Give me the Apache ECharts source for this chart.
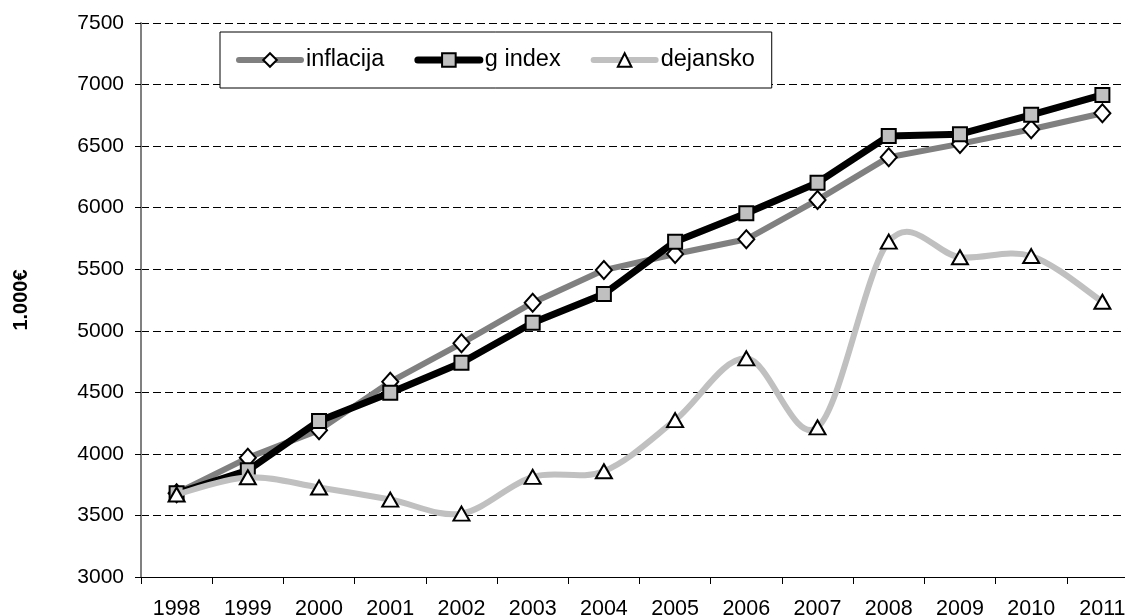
<!DOCTYPE html>
<html>
<head>
<meta charset="utf-8">
<script src="https://cdn.jsdelivr.net/npm/echarts@6/dist/echarts.min.js"></script>
<style>
  html, body { margin: 0; padding: 0; background: #fff; }
  #chart { width: 1125px; height: 616px; }
</style>
</head>
<body>
<div id="chart"></div>
<script>
// Years on the horizontal axis
const years = ['1998','1999','2000','2001','2002','2003','2004','2005','2006','2007','2008','2009','2010','2011'];

// Values in 1.000 €
const inflacija = [3680, 3968, 4193, 4585, 4898, 5228, 5493, 5624, 5743, 6063, 6410, 6518, 6637, 6767];
const gIndex    = [3680, 3867, 4268, 4496, 4740, 5065, 5299, 5724, 5955, 6203, 6583, 6597, 6754, 6916];
const dejansko  = [3670, 3810, 3727, 3629, 3515, 3813, 3859, 4274, 4776, 4215, 5724, 5597, 5607, 5236];

const font = '"Liberation Sans", Arial, sans-serif';

const chart = echarts.init(document.getElementById('chart'), null, { renderer: 'canvas' });

// One smoothed segment per point (Catmull-Rom style Bezier, tension 1/6),
// positioned through the chart's own coordinate system.
function smoothSegment(params, api) {
  const i = params.dataIndex;
  const n = dejansko.length;
  if (i >= n - 1) return null;
  const clamp = k => Math.max(0, Math.min(n - 1, k));
  const pt = k => api.coord([clamp(k), dejansko[clamp(k)]]);
  const p0 = pt(i - 1), p1 = pt(i), p2 = pt(i + 1), p3 = pt(i + 2);
  return {
    type: 'bezierCurve',
    shape: {
      x1: p1[0], y1: p1[1],
      x2: p2[0], y2: p2[1],
      cpx1: p1[0] + (p2[0] - p0[0]) / 6, cpy1: p1[1] + (p2[1] - p0[1]) / 6,
      cpx2: p2[0] - (p3[0] - p1[0]) / 6, cpy2: p2[1] - (p3[1] - p1[1]) / 6
    },
    style: { stroke: '#c0c0c0', lineWidth: 6, fill: null, lineCap: 'round' },
    silent: true
  };
}

chart.setOption({
  animation: false,
  backgroundColor: '#ffffff',
  grid: {
    left: 141, top: 23, width: 997, height: 554,
    containLabel: false,
    outerBoundsMode: 'none'
  },
  legend: {
    left: 220,
    top: 32,
    padding: [16, 17, 16, 16],
    itemGap: 30,
    itemWidth: 62,
    itemHeight: 17,
    borderColor: '#000',
    borderWidth: 1,
    backgroundColor: '#fff',
    lineStyle: { width: 'inherit', cap: 'round' },
    textStyle: { fontFamily: font, fontSize: 23.5, color: '#000' },
    data: [
      { name: 'inflacija' },
      { name: 'g index' },
      { name: 'dejansko', lineStyle: { color: '#c0c0c0', width: 6, opacity: 1, cap: 'round' } }
    ]
  },
  xAxis: {
    type: 'category',
    data: years,
    boundaryGap: true,
    axisLine: { lineStyle: { color: '#000', width: 1 } },
    axisTick: { show: true, length: 7, lineStyle: { color: '#000' } },
    axisLabel: { fontFamily: font, fontSize: 21.5, color: '#000', margin: 21 },
    splitLine: { show: false }
  },
  yAxis: {
    type: 'value',
    min: 3000,
    max: 7500,
    interval: 500,
    name: '1.000€',
    nameLocation: 'middle',
    nameRotate: 90,
    nameGap: 110,
    nameTextStyle: { fontFamily: font, fontSize: 20, fontWeight: 'bold', color: '#000' },
    axisLine: { show: true, lineStyle: { color: '#808080', width: 2 } },
    axisTick: { show: true, length: 6, lineStyle: { color: '#000' } },
    axisLabel: { fontFamily: font, fontSize: 21, color: '#000', margin: 17, formatter: v => String(v) },
    splitLine: { show: true, lineStyle: { color: '#000', width: 1, type: [8, 4] } }
  },
  series: [
    {
      name: 'inflacija',
      type: 'line',
      data: inflacija,
      symbol: 'diamond',
      symbolSize: [16, 18],
      lineStyle: { color: '#808080', width: 6 },
      itemStyle: { color: '#ffffff', borderColor: '#000', borderWidth: 2 },
      z: 2
    },
    {
      name: 'g index',
      type: 'line',
      data: gIndex,
      symbol: 'rect',
      symbolSize: 14,
      lineStyle: { color: '#000000', width: 7 },
      itemStyle: { color: '#c0c0c0', borderColor: '#000', borderWidth: 2 },
      z: 3
    },
    {
      name: 'dejansko-krivulja',
      type: 'custom',
      data: dejansko.map((v, i) => [i, v]),
      renderItem: smoothSegment,
      z: 3.5
    },
    {
      name: 'dejansko',
      type: 'line',
      data: dejansko,
      symbol: 'triangle',
      symbolSize: [16, 14],
      lineStyle: { color: '#c0c0c0', width: 6, opacity: 0 },
      itemStyle: { color: '#ffffff', borderColor: '#000', borderWidth: 2 },
      z: 4
    }
  ]
});
</script>
</body>
</html>
